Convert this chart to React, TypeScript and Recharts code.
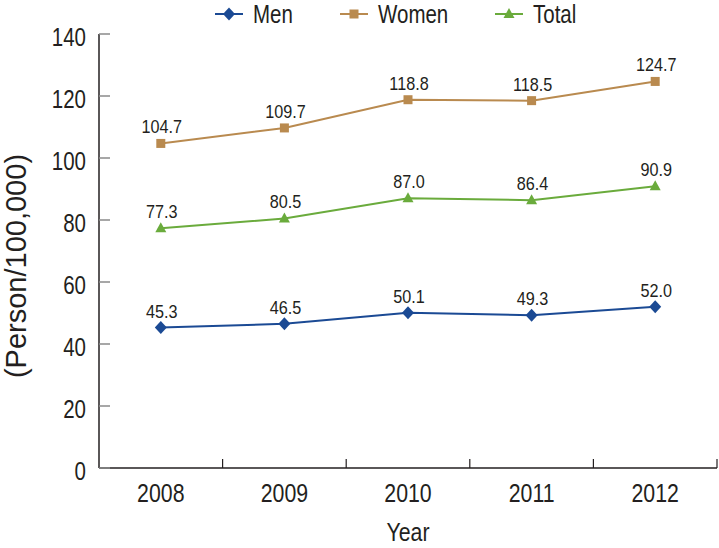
import React from 'react';
import { LineChart, Line, XAxis, YAxis, Legend } from 'recharts';

const years = ['2008', '2009', '2010', '2011', '2012'];
const men = [45.3, 46.5, 50.1, 49.3, 52.0];
const women = [104.7, 109.7, 118.8, 118.5, 124.7];
const total = [77.3, 80.5, 87.0, 86.4, 90.9];
const yTicks = [0, 20, 40, 60, 80, 100, 120, 140];

const menColor = '#1b4a94';
const womenColor = '#b98a4f';
const totalColor = '#6aab3c';
const ink = '#231f20';
const font = '"Liberation Sans", Arial, sans-serif';
const narrow = 0.82; // squeeze Arial metrics to look like a condensed face
const xTickMargin = 15;

const data = years.map((year, i) => ({ year, men: men[i], women: women[i], total: total[i] }));

type DotProps = { cx?: number; cy?: number; fill: string };

const Diamond = ({ cx = 0, cy = 0, fill }: DotProps) => (
  <path d={`M${cx},${cy - 6.5}L${cx + 6},${cy}L${cx},${cy + 6.5}L${cx - 6},${cy}Z`} fill={fill} />
);
const Square = ({ cx = 0, cy = 0, fill }: DotProps) => (
  <rect x={cx - 4.5} y={cy - 4.5} width={9} height={9} fill={fill} />
);
const Triangle = ({ cx = 0, cy = 0, fill }: DotProps) => (
  <path d={`M${cx},${cy - 6}L${cx + 5.5},${cy + 4}L${cx - 5.5},${cy + 4}Z`} fill={fill} />
);

const series = [
  { key: 'men', name: 'Men', color: menColor, Shape: Diamond },
  { key: 'women', name: 'Women', color: womenColor, Shape: Square },
  { key: 'total', name: 'Total', color: totalColor, Shape: Triangle },
];
const legendX = [215, 340, 495];

const NarrowText = ({ x, y, anchor, size, dy, squeeze = narrow, children }: any) => (
  <text
    transform={`translate(${x},${y}) scale(${squeeze},1)`}
    textAnchor={anchor}
    dy={dy}
    fontFamily={font}
    fontSize={size}
    fill={ink}
  >
    {children}
  </text>
);

const LegendContent = () => (
  <svg width={719} height={28} style={{ display: 'block' }}>
    {series.map((s, i) => (
      <g key={s.key} transform={`translate(${legendX[i]},14)`}>
        <line x1={0} y1={0} x2={28} y2={0} stroke={s.color} strokeWidth={2} />
        <s.Shape cx={14} cy={0} fill={s.color} />
        <NarrowText x={38} y={0} anchor="start" size={25} dy="0.36em">
          {s.name}
        </NarrowText>
      </g>
    ))}
  </svg>
);

const YLabel = ({ viewBox }: any) => {
  const { y, height } = viewBox;
  const cy = y + height / 2 + 15;
  return (
    <text
      x={16}
      y={cy}
      transform={`rotate(-90 16 ${cy})`}
      textAnchor="middle"
      dy="0.35em"
      fontFamily={font}
      fontSize={29}
      fill={ink}
    >
      (Person/100,000)
    </text>
  );
};

const YTick = ({ x, y, payload }: any) => (
  <NarrowText x={x} y={y + 3} anchor="end" size={25} dy="0.36em">
    {payload.value}
  </NarrowText>
);

const XTick = ({ x, y, payload, width, visibleTicksCount }: any) => {
  const count = visibleTicksCount || years.length;
  const half = payload.offset > 0 ? payload.offset : (width || 618) / count / 2;
  const axisY = y - xTickMargin;
  return (
    <g>
      <line x1={x + half} y1={axisY} x2={x + half} y2={axisY - 9} stroke={ink} strokeWidth={1.2} />
      <NarrowText x={x} y={y} anchor="middle" size={26} dy="0.72em">
        {payload.value}
      </NarrowText>
    </g>
  );
};

const XLabel = ({ viewBox }: any) => (
  <NarrowText x={viewBox.x + viewBox.width / 2} y={viewBox.y + viewBox.height + 14} anchor="middle" size={26} dy="0.72em">
    Year
  </NarrowText>
);

const PointLabel = ({ x, y, value }: any) => (
  <NarrowText x={x + 1} y={y - 10} anchor="middle" size={18} squeeze={0.9}>
    {Number(value).toFixed(1)}
  </NarrowText>
);

const App = () => (
  <div style={{ position: 'absolute', left: 0, top: 0 }}>
    <LineChart width={719} height={548} data={data} margin={{ top: 6, right: 2, bottom: 40, left: 0 }}>
      <Legend verticalAlign="top" content={<LegendContent />} wrapperStyle={{ top: 0, left: 0, width: 719 }} />
      <XAxis
        dataKey="year"
        scale="band"
        height={40}
        tickLine={false}
        tickSize={0}
        tickMargin={xTickMargin}
        axisLine={{ stroke: ink, strokeWidth: 1.5 }}
        tick={<XTick />}
        label={<XLabel />}
      />
      <YAxis
        width={99}
        domain={[0, 140]}
        ticks={yTicks}
        tickSize={-11}
        tickMargin={24}
        axisLine={{ stroke: ink, strokeWidth: 1.5 }}
        tickLine={{ stroke: '#8a8a8a', strokeWidth: 1.5 }}
        tick={<YTick />}
        label={<YLabel />}
      />
      {series.map((s) => (
        <Line
          key={s.key}
          dataKey={s.key}
          name={s.name}
          stroke={s.color}
          strokeWidth={2}
          isAnimationActive={false}
          dot={(p: any) => <s.Shape key={`${s.key}-${p.index}`} cx={p.cx} cy={p.cy} fill={s.color} />}
          activeDot={false}
          label={<PointLabel />}
        />
      ))}
    </LineChart>
  </div>
);

export default App;
